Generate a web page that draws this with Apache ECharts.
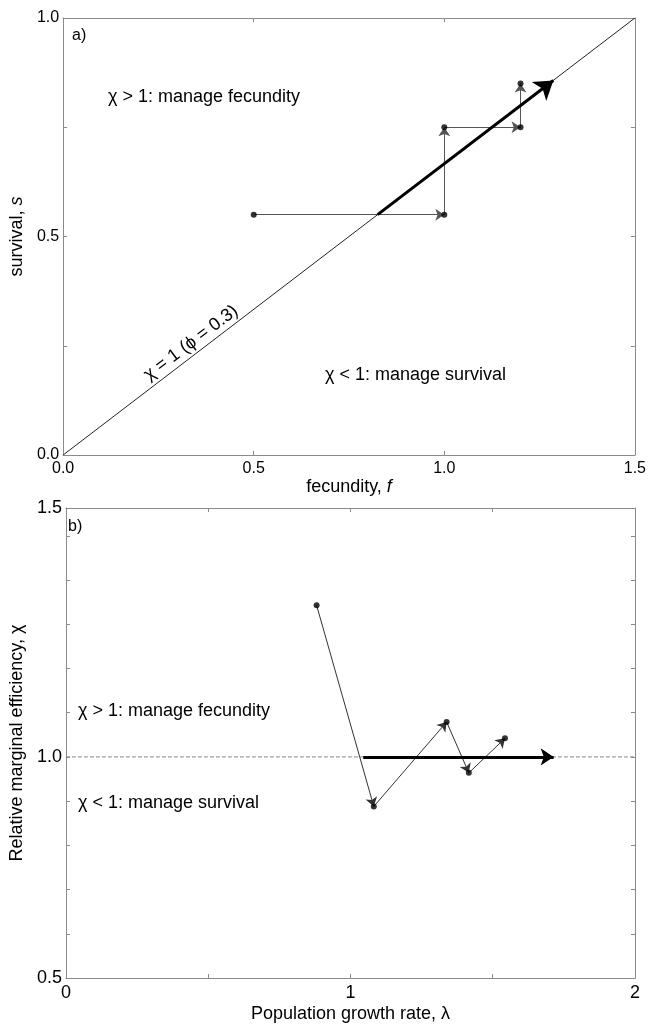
<!DOCTYPE html>
<html>
<head>
<meta charset="utf-8">
<script src="https://cdn.jsdelivr.net/npm/echarts@6/dist/echarts.min.js"></script>
<style>
html,body{margin:0;padding:0;background:#fff;}
#chart{width:649px;height:1024px;}
</style>
</head>
<body>
<div id="chart"></div>
<script>
// ---- Panel a) data ----
const fecundity = [0.5, 1.0, 1.0, 1.2, 1.2];
const survival  = [0.55, 0.55, 0.75, 0.75, 0.85];
const diagonalF = [0, 1.5];
const diagonalS = [0, 1.0];
const thickA_F  = [0.825, 1.286];
const thickA_S  = [0.55, 0.857];
const xTicksA = [0.0, 0.5, 1.0, 1.5];
const yTicksA = [0.0, 0.5, 1.0];

// ---- Panel b) data ----
const lambda = [0.881, 1.082, 1.338, 1.416, 1.543];
const chi    = [1.343, 0.888, 1.079, 0.964, 1.042];
const refLineX = [0, 2];
const refLineY = [1, 1];
const thickB_L = [1.045, 1.714];
const thickB_C = [1.0, 1.0];
const xTicksB = [0, 1, 2];
const yTicksB = [0.5, 1.0];
const yTopLabelB = '1.5';
const yRangeB = [0.5, 1.563];

const FONT = "'Liberation Sans', Arial, sans-serif";
const AX = '#8a8a8a';

function pairs(xs, ys){ return xs.map((x,i)=>[x, ys[i]]); }
function steps(xs, ys){
  const out = [];
  for (let i=0;i<xs.length-1;i++) out.push({coords:[[xs[i],ys[i]],[xs[i+1],ys[i+1]]]});
  return out;
}
function near(v, list){ return list.some(t=>Math.abs(t-v)<1e-6); }

function baseAxis(extra){
  return Object.assign({
    type:'value',
    axisLine:{show:true, onZero:false, lineStyle:{color:AX, width:1}},
    axisTick:{show:true, inside:true, length:4, lineStyle:{color:AX}},
    splitLine:{show:false},
  }, extra);
}

const chart = echarts.init(document.getElementById('chart'), null, {renderer:'canvas'});
const option = {
  animation:false,
  backgroundColor:'#fff',
  grid:[
    {left:55, top:18, width:581, height:437},
    {left:52, top:508, width:583, height:474}
  ],
  xAxis:[
    baseAxis({gridIndex:0, position:'bottom', min:0, max:1.5, interval:0.5,
      axisLabel:{color:'#000', fontSize:16, fontFamily:FONT, margin:6,
        formatter:v=> near(v,xTicksA) ? v.toFixed(1) : ''},
      name:'{n|fecundity, }{i|f}', nameLocation:'middle', nameGap:23,
      nameTextStyle:{rich:{n:{fontSize:18,fontFamily:FONT,color:'#000'},i:{fontSize:18,fontFamily:FONT,fontStyle:'italic',color:'#000'}}}}),
    baseAxis({gridIndex:0, position:'top', min:0, max:1.5, interval:0.5, axisLabel:{show:false}}),
    baseAxis({gridIndex:1, position:'bottom', min:0, max:2, interval:0.5,
      axisLabel:{color:'#000', fontSize:18, fontFamily:FONT, margin:6,
        formatter:v=> near(v,xTicksB) ? String(v) : ''},
      name:'Population growth rate, λ', nameLocation:'middle', nameGap:27,
      nameTextStyle:{fontSize:18, fontFamily:FONT, color:'#000'}}),
    baseAxis({gridIndex:1, position:'top', min:0, max:2, interval:0.5, axisLabel:{show:false}})
  ],
  yAxis:[
    baseAxis({gridIndex:0, position:'left', min:0, max:1, interval:0.25,
      axisLabel:{color:'#000', fontSize:16, fontFamily:FONT, margin:4,
        formatter:v=> near(v,yTicksA) ? v.toFixed(1) : ''},
      name:'{n|survival, }{i|s}', nameLocation:'middle', nameGap:26, nameRotate:90,
      nameTextStyle:{rich:{n:{fontSize:18,fontFamily:FONT,color:'#000'},i:{fontSize:18,fontFamily:FONT,fontStyle:'italic',color:'#000'}}}}),
    baseAxis({gridIndex:0, position:'right', min:0, max:1, interval:0.25, axisLabel:{show:false}}),
    baseAxis({gridIndex:1, position:'left', min:yRangeB[0], max:yRangeB[1], interval:0.1,
      axisLabel:{color:'#000', fontSize:18, fontFamily:FONT, margin:4, showMaxLabel:true,
        formatter:v=> near(v,yTicksB) ? v.toFixed(1) : (Math.abs(v-yRangeB[1])<1e-6 ? yTopLabelB : '')},
      name:'Relative marginal efficiency, χ', nameLocation:'middle', nameGap:26, nameRotate:90,
      nameTextStyle:{fontSize:18, fontFamily:FONT, color:'#000'}}),
    baseAxis({gridIndex:1, position:'right', min:yRangeB[0], max:yRangeB[1], interval:0.1, axisLabel:{show:false}})
  ],
  series:[
    // panel a
    {type:'line', xAxisIndex:0, yAxisIndex:0, data:pairs(diagonalF, diagonalS), symbol:'none',
      lineStyle:{color:'#222', width:1}, silent:true, z:1},
    {type:'lines', coordinateSystem:'cartesian2d', xAxisIndex:0, yAxisIndex:0,
      data:steps(fecundity, survival), symbol:['none','arrow'], symbolSize:[7,9],
      lineStyle:{color:'#555', width:1, opacity:1}, silent:true, z:3},
    {type:'lines', coordinateSystem:'cartesian2d', xAxisIndex:0, yAxisIndex:0,
      data:[{coords:pairs(thickA_F, thickA_S)}], symbol:['none','arrow'], symbolSize:[13,18],
      lineStyle:{color:'#000', width:3, opacity:1}, silent:true, z:4},
    {type:'scatter', xAxisIndex:0, yAxisIndex:0, data:pairs(fecundity, survival),
      symbol:'circle', symbolSize:6, itemStyle:{color:'#000'}, silent:true, z:5},
    // panel b
    {type:'line', xAxisIndex:2, yAxisIndex:2, data:pairs(refLineX, refLineY), symbol:'none',
      lineStyle:{color:'#888', width:1, type:[4,2]}, silent:true, z:1},
    {type:'lines', coordinateSystem:'cartesian2d', xAxisIndex:2, yAxisIndex:2,
      data:[{coords:pairs(thickB_L, thickB_C)}], symbol:['none','arrow'], symbolSize:[9,13],
      lineStyle:{color:'#000', width:3, opacity:1}, silent:true, z:4},
    {type:'lines', coordinateSystem:'cartesian2d', xAxisIndex:2, yAxisIndex:2,
      data:steps(lambda, chi), symbol:['none','arrow'], symbolSize:[6,9],
      lineStyle:{color:'#333', width:1, opacity:1}, silent:true, z:3},
    {type:'scatter', xAxisIndex:2, yAxisIndex:2, data:pairs(lambda, chi),
      symbol:'circle', symbolSize:6, itemStyle:{color:'#000'}, silent:true, z:5}
  ],
  graphic:[
    {type:'text', x:72, y:36, style:{text:'a)', font:'16px '+FONT, fill:'#000', verticalAlign:'middle'}},
    {type:'text', x:108, y:97, style:{text:'χ > 1: manage fecundity', font:'18px '+FONT, fill:'#000', verticalAlign:'middle'}},
    {type:'text', x:325, y:375, style:{text:'χ < 1: manage survival', font:'18px '+FONT, fill:'#000', verticalAlign:'middle'}},
    {type:'text', x:191, y:343, rotation:0.644, style:{text:'χ = 1 (ϕ = 0.3)', font:'18px '+FONT, fill:'#000', align:'center', verticalAlign:'middle'}},
    {type:'text', x:68, y:527, style:{text:'b)', font:'16px '+FONT, fill:'#000', verticalAlign:'middle'}},
    {type:'text', x:78, y:711, style:{text:'χ > 1: manage fecundity', font:'18px '+FONT, fill:'#000', verticalAlign:'middle'}},
    {type:'text', x:78, y:803, style:{text:'χ < 1: manage survival', font:'18px '+FONT, fill:'#000', verticalAlign:'middle'}}
  ]
};
chart.setOption(option);
</script>
</body>
</html>
